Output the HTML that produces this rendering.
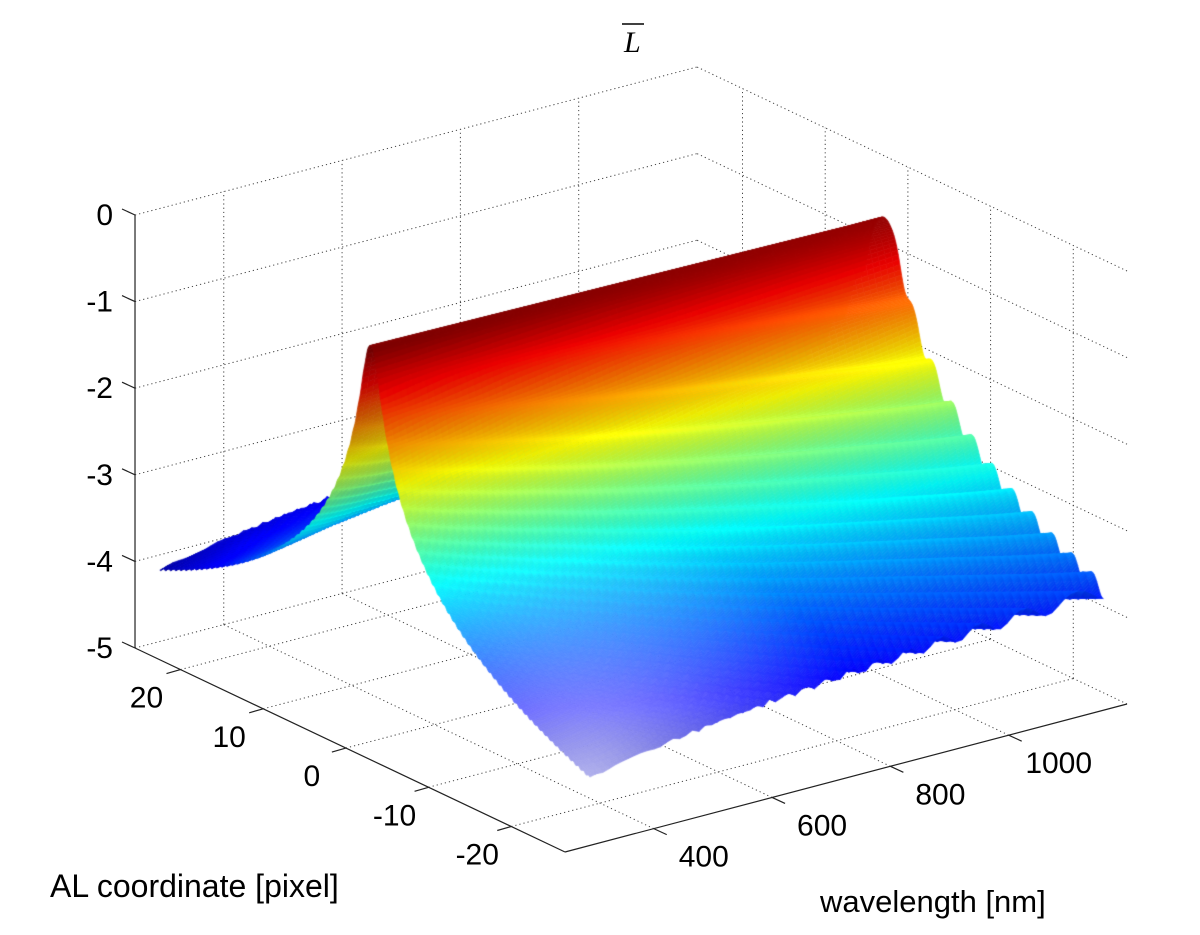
<!DOCTYPE html>
<html><head><meta charset="utf-8">
<style>
html,body{margin:0;padding:0;background:#fff;}
#wrap{position:relative;width:1200px;height:935px;overflow:hidden;background:#fff;}
svg,canvas{position:absolute;left:0;top:0;}
text{font-family:"Liberation Sans",Arial,sans-serif;font-size:30px;fill:#000;}
</style></head>
<body>
<div id="wrap">
<svg id="bg" width="1200" height="935"></svg>
<canvas id="cv" width="1200" height="935"></canvas>
<svg id="fg" width="1200" height="935">
  <text x="624" y="52" style="font-family:'Liberation Serif',serif;font-style:italic;font-size:30px">L</text>
  <line x1="622" y1="24" x2="644" y2="24" stroke="#000" stroke-width="1.5"/>
  <text x="50" y="897" style="font-size:32px">AL coordinate [pixel]</text>
  <text x="820" y="912" style="font-size:31px">wavelength [nm]</text>
</svg>
</div>
<script>
// ---- data ----
const wlTicks = [400, 600, 800, 1000];
const alTicks = [-20, -10, 0, 10, 20];
const zTicks = [0, -1, -2, -3, -4, -5];
const wlGrid = [292, 400, 500, 600, 700, 800, 900, 1000, 1100, 1160];
const peakZ = [-0.43, -0.44, -0.45, -0.46, -0.47, -0.48, -0.49, -0.50, -0.51, -0.51];
const coreC = [1.215, 1.05, 0.94, 0.86, 0.79, 0.74, 0.69, 0.65, 0.62, 0.604];
const ripplePeriod = [0.62, 0.83, 1.03, 1.24, 1.45, 1.65, 1.86, 2.07, 2.28, 2.4];
const rippleDepth = [0.05, 0.08, 0.11, 0.14, 0.18, 0.22, 0.26, 0.30, 0.34, 0.36];
const wlRange = [250, 1200], alRange = [-26.5, 25.5], zRange = [-5, 0];
const cLim = [-4.3, -0.45];

// ---- axis functions ----
function P(w, a, z) {
  const dw = w - wlRange[0], da = a - alRange[0], dz = z - zRange[0];
  return [565 + 0.5916 * dw - 8.269 * da, 852 - 0.1558 * dw - 3.923 * da - 86.6 * dz];
}
function interp(arr, w) {
  if (w <= wlGrid[0]) return arr[0];
  for (let i = 1; i < wlGrid.length; i++) {
    if (w <= wlGrid[i]) { const t = (w - wlGrid[i-1]) / (wlGrid[i] - wlGrid[i-1]); return arr[i-1] + t * (arr[i] - arr[i-1]); }
  }
  return arr[arr.length - 1];
}
function L(w, a) {
  const c = interp(coreC, w), p = interp(ripplePeriod, w), pk = interp(peakZ, w), m = interp(rippleDepth, w);
  const E = 1 / (1 + Math.pow(Math.abs(c * a), 2.5));
  const u = a / p;
  const M = 1 - m * Math.pow(Math.cos(Math.PI * u), 2) * (1 - Math.exp(-u * u * 2));
  return pk + Math.log10(E * M);
}
function jet(t) {
  const cl = v => Math.max(0, Math.min(1, v));
  return [cl(1.5 - Math.abs(4 * t - 3)), cl(1.5 - Math.abs(4 * t - 2)), cl(1.5 - Math.abs(4 * t - 1))];
}

// ---- grid + axes ----
const NS = "http://www.w3.org/2000/svg";
const bg = document.getElementById('bg'), fg = document.getElementById('fg');
function line(parent, p1, p2, dotted, name) {
  const l = document.createElementNS(NS, 'line');
  l.setAttribute('x1', p1[0]); l.setAttribute('y1', p1[1]);
  l.setAttribute('x2', p2[0]); l.setAttribute('y2', p2[1]);
  l.setAttribute('stroke', dotted ? '#444' : '#222');
  l.setAttribute('stroke-width', dotted ? 1 : 1.2);
  if (dotted) l.setAttribute('stroke-dasharray', '1.2,3');
  
  
  parent.appendChild(l);
}
function text(x, y, s, anchor, name) {
  const t = document.createElementNS(NS, 'text');
  t.setAttribute('x', x); t.setAttribute('y', y);
  t.setAttribute('text-anchor', anchor);
  t.textContent = s;
  
  
  fg.appendChild(t);
}
const [w0, w1] = wlRange, [a0, a1] = alRange;
wlTicks.forEach(w => { line(bg, P(w, a1, -5), P(w, a1, 0), true, 'gridline-wl-wall'); line(bg, P(w, a0, -5), P(w, a1, -5), true, 'gridline-wl-floor'); });
zTicks.forEach(z => { line(bg, P(w0, a1, z), P(w1, a1, z), true, 'gridline-z-back'); line(bg, P(w1, a0, z), P(w1, a1, z), true, 'gridline-z-right'); });
alTicks.forEach(a => { line(bg, P(w1, a, -5), P(w1, a, 0), true, 'gridline-al-wall'); line(bg, P(w0, a, -5), P(w1, a, -5), true, 'gridline-al-floor'); });

line(fg, P(w0, a1, 0), P(w0, a1, -5), false, 'z-axis-line');
line(fg, P(w0, a1, -5), P(w0, a0, -5), false, 'al-axis-line');
line(fg, P(w0, a0, -5), P(w1, a0, -5), false, 'wavelength-axis-line');
zTicks.forEach(z => {
  const p = P(w0, a1, z);
  line(fg, p, [p[0] - 13, p[1] - 6], false, 'z-tick');
  text(p[0] - 22, p[1] + 10, String(z), 'end', 'z-tick-label');
});
alTicks.forEach(a => {
  const p = P(w0, a, -5);
  line(fg, p, [p[0] - 14, p[1] + 4], false, 'al-tick');
  text(p[0] - 34, p[1] + 38, String(a), 'middle', 'al-tick-label');
});
wlTicks.forEach(w => {
  const p = P(w, a0, -5);
  line(fg, p, [p[0] + 13, p[1] + 6], false, 'wavelength-tick');
  text(p[0] + 50, p[1] + 38, String(w), 'middle', 'wavelength-tick-label');
});

// ---- surface ----
const cv = document.getElementById('cv'), ctx = cv.getContext('2d');
const wMin = wlGrid[0], wMax = wlGrid[wlGrid.length - 1];
const NW = 80, NA = 520;
const ws = [], as = [];
for (let i = 0; i <= NW; i++) ws.push(wMin + (wMax - wMin) * i / NW);
for (let j = 0; j <= NA; j++) as.push(a0 + (a1 - a0) * j / NA);
const Z = as.map(a => ws.map(w => L(w, a)));
const lx = -0.3 / Math.hypot(0.3, 1), lz = 1 / Math.hypot(0.3, 1);
for (let j = NA - 1; j >= 0; j--) {
  for (let i = NW - 1; i >= 0; i--) {
    const z00 = Z[j][i], z01 = Z[j][i+1], z10 = Z[j+1][i], z11 = Z[j+1][i+1];
    const zm = (z00 + z01 + z10 + z11) / 4;
    const t = (zm - cLim[0]) / (cLim[1] - cLim[0]);
    let col = jet(Math.max(0, Math.min(1, t)));
    const da = as[j+1] - as[j];
    const slope = ((z10 + z11) - (z00 + z01)) / 2 / da * 86.6 / 9;
    const nn = Math.hypot(slope, 1);
    const d = (-slope * lx + lz) / nn;
    const f = Math.min(1.05, 0.8 + 0.25 * d);
    const p1 = P(ws[i], as[j], z00), p2 = P(ws[i+1], as[j], z01), p3 = P(ws[i+1], as[j+1], z11), p4 = P(ws[i], as[j+1], z10);
    let r = col[0] * f, g = col[1] * f, b = col[2] * f;
    const cx = (p1[0] + p3[0]) / 2, cy = (p1[1] + p3[1]) / 2;
    if (as[j] < 0) {
      const dd = Math.hypot(cx - 590, (cy - 790) * 1.1);
      const wb = 0.85 * Math.pow(Math.max(0, 1 - dd / 290), 1.1);
      r = r + (0.86 - r) * wb; g = g + (0.86 - g) * wb; b = b + (1 - b) * wb;
    }
    const s = 'rgb(' + Math.round(Math.min(1, r) * 255) + ',' + Math.round(Math.min(1, g) * 255) + ',' + Math.round(Math.min(1, b) * 255) + ')';
    ctx.fillStyle = s; ctx.strokeStyle = s; ctx.lineWidth = 0.7;
    ctx.beginPath(); ctx.moveTo(p1[0], p1[1]); ctx.lineTo(p2[0], p2[1]); ctx.lineTo(p3[0], p3[1]); ctx.lineTo(p4[0], p4[1]); ctx.closePath();
    ctx.fill(); ctx.stroke();
  }
}
</script>
</body></html>
